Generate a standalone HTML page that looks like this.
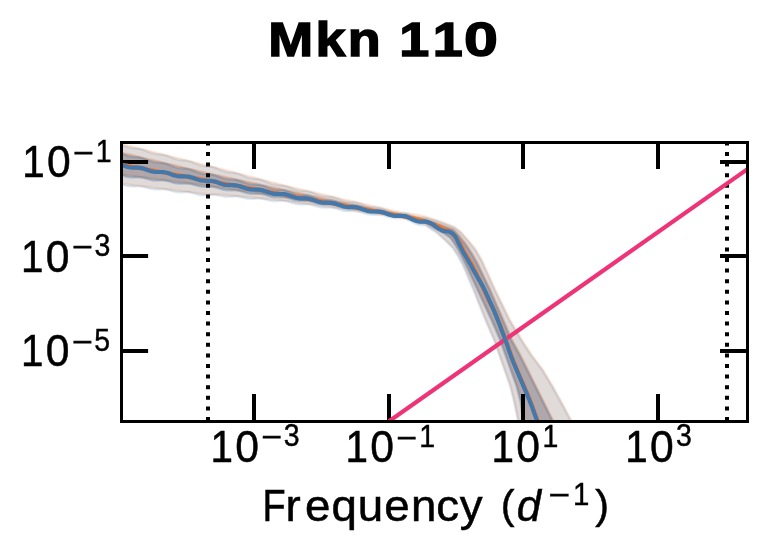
<!DOCTYPE html>
<html><head><meta charset="utf-8"><title>Mkn 110</title>
<style>
html,body{margin:0;padding:0;background:#fff;}
body{width:766px;height:553px;overflow:hidden;font-family:"Liberation Sans",sans-serif;}
svg{display:block;will-change:transform;}
</style></head><body>
<svg width="766" height="553" viewBox="0 0 766 553" font-family="'Liberation Sans', sans-serif" fill="#000">
<rect width="766" height="553" fill="#fff"/>
<defs><clipPath id="ax"><rect x="121.5" y="142.5" width="626.0" height="279.0"/></clipPath></defs>
<g clip-path="url(#ax)" stroke-linejoin="round">
<path d="M116.8 142.4 L119.8 143.3 L122.8 144.1 L125.8 144.9 L128.8 145.7 L131.8 146.4 L134.8 147.2 L137.8 147.9 L140.8 148.7 L143.8 149.4 L146.8 150.2 L149.8 150.9 L152.8 151.7 L155.8 152.4 L158.8 153.2 L161.8 153.9 L164.8 154.7 L167.8 155.4 L170.8 156.2 L173.8 156.9 L176.8 157.7 L179.8 158.4 L182.8 159.2 L185.8 159.9 L188.8 160.7 L191.8 161.4 L194.8 162.2 L197.8 162.9 L200.8 163.7 L203.8 164.4 L206.8 165.2 L209.8 165.9 L212.8 166.7 L215.8 167.4 L218.8 168.2 L221.8 168.9 L224.8 169.7 L227.8 170.5 L230.8 171.3 L233.8 172.1 L236.8 172.9 L239.8 173.7 L242.8 174.4 L245.8 175.2 L248.8 176.0 L251.8 176.8 L254.8 177.6 L257.8 178.4 L260.8 179.2 L263.8 180.0 L266.8 180.8 L269.8 181.5 L272.8 182.3 L275.8 183.1 L278.8 183.9 L281.8 184.7 L284.8 185.4 L287.8 186.1 L290.8 186.8 L293.8 187.5 L296.8 188.2 L299.8 188.9 L302.8 189.6 L305.8 190.3 L308.8 191.0 L311.8 191.7 L314.8 192.4 L317.8 193.1 L320.8 193.9 L323.8 194.5 L326.8 195.2 L329.8 195.9 L332.8 196.6 L335.8 197.3 L338.8 198.0 L341.8 198.7 L344.8 199.4 L347.8 200.0 L350.8 200.7 L353.8 201.4 L356.8 202.1 L359.8 202.8 L362.8 203.5 L365.8 204.2 L368.8 204.9 L371.8 205.5 L374.8 206.2 L377.8 206.9 L380.8 207.6 L383.8 208.3 L386.8 209.0 L389.8 209.7 L392.8 210.4 L395.8 211.0 L398.8 211.7 L401.8 212.3 L404.8 212.8 L407.8 213.2 L410.8 213.7 L413.8 214.1 L416.8 214.6 L419.8 215.3 L422.8 215.9 L425.8 216.5 L435.7 219.7 L446.5 223.6 L455.2 227.2 L461.8 232.6 L469.4 241.3 L476.3 250.0 L482.4 260.8 L495.3 289.4 L509.9 319.4 L521.8 339.4 L531.8 354.8 L543.3 370.1 L552.5 385.5 L561.0 400.8 L571.0 419.4 L573.6 424.4 L519.4 424.4 L518.5 419.4 L514.6 400.8 L510.8 385.5 L505.4 370.1 L500.0 354.8 L494.6 339.4 L486.0 319.4 L474.1 289.4 L463.5 264.4 L459.2 256.5 L453.7 247.8 L446.1 240.2 L437.1 231.9 L431.2 228.2 L425.8 224.4 L422.8 223.5 L419.8 222.5 L416.8 221.6 L413.8 220.7 L410.8 219.9 L407.8 219.2 L404.8 218.4 L401.8 217.6 L398.8 217.1 L395.8 216.7 L392.8 216.2 L389.8 215.8 L386.8 215.3 L383.8 214.9 L380.8 214.5 L377.8 214.0 L374.8 213.6 L371.8 213.1 L368.8 212.7 L365.8 212.3 L362.8 211.8 L359.8 211.4 L356.8 210.9 L353.8 210.5 L350.8 210.1 L347.8 209.6 L344.8 209.2 L341.8 208.7 L338.8 208.3 L335.8 207.9 L332.8 207.4 L329.8 207.0 L326.8 206.5 L323.8 206.1 L320.8 205.7 L317.8 205.2 L314.8 204.8 L311.8 204.4 L308.8 204.0 L305.8 203.6 L302.8 203.2 L299.8 202.8 L296.8 202.3 L293.8 201.9 L290.8 201.5 L287.8 201.1 L284.8 200.7 L281.8 200.3 L278.8 199.9 L275.8 199.7 L272.8 199.4 L269.8 199.1 L266.8 198.8 L263.8 198.6 L260.8 198.3 L257.8 198.0 L254.8 197.7 L251.8 197.4 L248.8 197.2 L245.8 196.9 L242.8 196.6 L239.8 196.3 L236.8 196.0 L233.8 195.8 L230.8 195.5 L227.8 195.2 L224.8 194.9 L221.8 194.6 L218.8 194.5 L215.8 194.5 L212.8 194.4 L209.8 194.4 L206.8 194.1 L203.8 193.7 L200.8 193.4 L197.8 193.0 L194.8 192.6 L191.8 192.3 L188.8 191.9 L185.8 191.5 L182.8 191.2 L179.8 190.8 L176.8 190.4 L173.8 190.1 L170.8 189.7 L167.8 189.3 L164.8 188.9 L161.8 188.6 L158.8 188.2 L155.8 187.8 L152.8 187.5 L149.8 187.1 L146.8 186.7 L143.8 186.4 L140.8 186.0 L137.8 185.6 L134.8 185.3 L131.8 184.9 L128.8 184.5 L125.8 184.1 L122.8 183.8 L119.8 183.5 L116.8 183.2 Z" fill="#ee7733" fill-opacity="0.15" stroke="#ee7733" stroke-opacity="0.15" stroke-width="2.2"/>
<path d="M116.8 151.5 L119.8 152.2 L122.8 153.0 L125.8 153.7 L128.8 154.4 L131.8 155.1 L134.8 155.8 L137.8 156.5 L140.8 157.3 L143.8 158.0 L146.8 158.7 L149.8 159.4 L152.8 160.1 L155.8 160.8 L158.8 161.5 L161.8 162.3 L164.8 163.0 L167.8 163.7 L170.8 164.4 L173.8 165.1 L176.8 165.8 L179.8 166.5 L182.8 167.3 L185.8 168.0 L188.8 168.7 L191.8 169.4 L194.8 170.1 L197.8 170.8 L200.8 171.6 L203.8 172.3 L206.8 173.0 L209.8 173.7 L212.8 174.3 L215.8 175.0 L218.8 175.6 L221.8 176.3 L224.8 176.9 L227.8 177.6 L230.8 178.2 L233.8 178.9 L236.8 179.5 L239.8 180.2 L242.8 180.8 L245.8 181.5 L248.8 182.1 L251.8 182.8 L254.8 183.4 L257.8 184.1 L260.8 184.7 L263.8 185.4 L266.8 186.0 L269.8 186.7 L272.8 187.3 L275.8 188.0 L278.8 188.6 L281.8 189.3 L284.8 189.9 L287.8 190.6 L290.8 191.2 L293.8 191.9 L296.8 192.5 L299.8 193.2 L302.8 193.8 L305.8 194.5 L308.8 195.1 L311.8 195.8 L314.8 196.4 L317.8 197.1 L320.8 197.8 L323.8 198.4 L326.8 199.0 L329.8 199.6 L332.8 200.2 L335.8 200.8 L338.8 201.5 L341.8 202.1 L344.8 202.7 L347.8 203.3 L350.8 203.9 L353.8 204.5 L356.8 205.2 L359.8 205.8 L362.8 206.4 L365.8 207.0 L368.8 207.6 L371.8 208.2 L374.8 208.9 L377.8 209.5 L380.8 210.1 L383.8 210.7 L386.8 211.3 L389.8 211.9 L392.8 212.6 L395.8 213.2 L398.8 213.8 L401.8 214.4 L404.8 214.9 L407.8 215.4 L410.8 215.9 L413.8 216.5 L416.8 217.1 L419.8 217.8 L422.8 218.5 L425.8 219.2 L435.7 222.9 L446.5 226.9 L453.8 229.6 L459.3 235.4 L466.3 244.4 L472.8 254.4 L478.3 264.4 L490.3 289.4 L503.3 319.4 L511.8 339.4 L520.3 354.8 L528.0 370.1 L535.6 385.5 L543.3 400.8 L552.5 419.4 L554.8 424.4 L524.5 424.4 L523.8 419.4 L521.2 400.8 L517.2 385.5 L511.6 370.1 L506.2 354.8 L500.8 339.4 L492.1 319.4 L478.1 289.4 L466.6 264.4 L461.6 254.4 L456.6 245.4 L451.1 237.4 L445.2 233.2 L438.2 229.2 L431.2 225.2 L425.8 221.9 L422.8 221.1 L419.8 220.2 L416.8 219.4 L413.8 218.7 L410.8 218.0 L407.8 217.4 L404.8 216.7 L401.8 216.1 L398.8 215.5 L395.8 215.1 L392.8 214.6 L389.8 214.1 L386.8 213.6 L383.8 213.1 L380.8 212.6 L377.8 212.1 L374.8 211.6 L371.8 211.1 L368.8 210.6 L365.8 210.1 L362.8 209.6 L359.8 209.1 L356.8 208.6 L353.8 208.1 L350.8 207.6 L347.8 207.1 L344.8 206.6 L341.8 206.1 L338.8 205.6 L335.8 205.1 L332.8 204.6 L329.8 204.1 L326.8 203.6 L323.8 203.1 L320.8 202.6 L317.8 202.1 L314.8 201.6 L311.8 201.2 L308.8 200.7 L305.8 200.3 L302.8 199.8 L299.8 199.3 L296.8 198.9 L293.8 198.4 L290.8 198.0 L287.8 197.5 L284.8 197.0 L281.8 196.6 L278.8 196.1 L275.8 195.7 L272.8 195.3 L269.8 194.8 L266.8 194.4 L263.8 193.9 L260.8 193.5 L257.8 193.1 L254.8 192.6 L251.8 192.2 L248.8 191.7 L245.8 191.3 L242.8 190.9 L239.8 190.4 L236.8 190.0 L233.8 189.5 L230.8 189.1 L227.8 188.6 L224.8 188.2 L221.8 187.8 L218.8 187.3 L215.8 186.9 L212.8 186.4 L209.8 186.0 L206.8 185.6 L203.8 185.2 L200.8 184.8 L197.8 184.4 L194.8 184.0 L191.8 183.6 L188.8 183.3 L185.8 182.9 L182.8 182.5 L179.8 182.1 L176.8 181.7 L173.8 181.3 L170.8 180.9 L167.8 180.5 L164.8 180.1 L161.8 179.7 L158.8 179.4 L155.8 179.0 L152.8 178.6 L149.8 178.2 L146.8 177.8 L143.8 177.4 L140.8 177.0 L137.8 176.6 L134.8 176.2 L131.8 175.8 L128.8 175.5 L125.8 175.1 L122.8 174.7 L119.8 174.2 L116.8 173.8 Z" fill="#ee7733" fill-opacity="0.30" stroke="#ee7733" stroke-opacity="0.30" stroke-width="2.2"/>
<path d="M116.0 142.7 L119.0 143.7 L122.0 144.9 L125.0 146.3 L128.0 147.3 L131.0 148.0 L134.0 148.3 L137.0 148.6 L140.0 149.0 L143.0 149.8 L146.0 151.0 L149.0 152.3 L152.0 153.3 L155.0 154.0 L158.0 154.3 L161.0 154.6 L164.0 155.0 L167.0 155.8 L170.0 157.0 L173.0 158.3 L176.0 159.3 L179.0 160.0 L182.0 160.3 L185.0 160.6 L188.0 161.0 L191.0 161.8 L194.0 163.0 L197.0 164.3 L200.0 165.3 L203.0 166.0 L206.0 166.3 L209.0 166.6 L212.0 167.0 L215.0 167.8 L218.0 169.0 L221.0 170.3 L224.0 171.4 L227.0 172.1 L230.0 172.5 L233.0 172.7 L236.0 173.2 L239.0 174.0 L242.0 175.3 L245.0 176.6 L248.0 177.7 L251.0 178.4 L254.0 178.8 L257.0 179.0 L260.0 179.5 L263.0 180.4 L266.0 181.6 L269.0 182.9 L272.0 184.0 L275.0 184.7 L278.0 185.1 L281.0 185.3 L284.0 185.7 L287.0 186.5 L290.0 187.6 L293.0 188.8 L296.0 189.9 L299.0 190.5 L302.0 190.8 L305.0 191.0 L308.0 191.4 L311.0 192.1 L314.0 193.3 L317.0 194.5 L320.0 195.5 L323.0 196.1 L326.0 196.4 L329.0 196.6 L332.0 196.9 L335.0 197.7 L338.0 198.8 L341.0 200.0 L344.0 201.0 L347.0 201.7 L350.0 201.9 L353.0 202.1 L356.0 202.4 L359.0 203.2 L362.0 204.3 L365.0 205.5 L368.0 206.5 L371.0 207.2 L374.0 207.4 L377.0 207.6 L380.0 207.9 L383.0 208.7 L386.0 209.8 L389.0 211.0 L392.0 212.0 L395.0 212.7 L398.0 212.9 L401.0 213.0 L404.0 213.0 L407.0 213.5 L410.0 214.7 L413.0 216.0 L416.0 217.0 L419.0 217.6 L422.0 217.7 L425.0 217.5 L434.9 220.2 L445.7 224.2 L454.4 227.8 L461.0 233.2 L468.6 241.9 L475.5 250.6 L481.6 261.4 L494.5 290.0 L509.1 320.0 L521.0 340.0 L531.0 355.4 L542.5 370.7 L551.7 386.1 L560.2 401.4 L570.2 420.0 L572.8 425.0 L518.6 425.0 L517.7 420.0 L513.8 401.4 L510.0 386.1 L504.6 370.7 L499.2 355.4 L493.8 340.0 L485.2 320.0 L473.3 290.0 L462.7 265.0 L458.4 257.1 L452.9 248.4 L445.3 240.8 L436.3 232.5 L430.4 228.8 L425.0 225.4 L422.0 225.2 L419.0 224.9 L416.0 224.0 L413.0 222.6 L410.0 221.0 L407.0 219.5 L404.0 218.6 L401.0 218.3 L398.0 218.3 L395.0 218.3 L392.0 217.9 L389.0 217.1 L386.0 216.2 L383.0 215.3 L380.0 214.8 L377.0 214.7 L374.0 214.8 L371.0 214.7 L368.0 214.4 L365.0 213.6 L362.0 212.6 L359.0 211.8 L356.0 211.3 L353.0 211.1 L350.0 211.2 L347.0 211.2 L344.0 210.9 L341.0 210.1 L338.0 209.1 L335.0 208.3 L332.0 207.7 L329.0 207.6 L326.0 207.7 L323.0 207.7 L320.0 207.3 L317.0 206.6 L314.0 205.6 L311.0 204.8 L308.0 204.3 L305.0 204.2 L302.0 204.4 L299.0 204.4 L296.0 204.0 L293.0 203.3 L290.0 202.3 L287.0 201.5 L284.0 201.0 L281.0 200.9 L278.0 201.1 L275.0 201.3 L272.0 201.1 L269.0 200.5 L266.0 199.7 L263.0 198.9 L260.0 198.6 L257.0 198.6 L254.0 198.9 L251.0 199.0 L248.0 198.8 L245.0 198.2 L242.0 197.4 L239.0 196.7 L236.0 196.4 L233.0 196.4 L230.0 196.7 L227.0 196.8 L224.0 196.6 L221.0 196.0 L218.0 195.3 L215.0 194.9 L212.0 194.7 L209.0 195.0 L206.0 195.3 L203.0 195.4 L200.0 195.1 L197.0 194.4 L194.0 193.5 L191.0 192.7 L188.0 192.2 L185.0 192.2 L182.0 192.3 L179.0 192.4 L176.0 192.1 L173.0 191.4 L170.0 190.5 L167.0 189.7 L164.0 189.3 L161.0 189.2 L158.0 189.4 L155.0 189.4 L152.0 189.1 L149.0 188.5 L146.0 187.6 L143.0 186.8 L140.0 186.3 L137.0 186.3 L134.0 186.4 L131.0 186.5 L128.0 186.2 L125.0 185.5 L122.0 184.6 L119.0 183.9 L116.0 183.5 Z" fill="#4477aa" fill-opacity="0.15" stroke="#4477aa" stroke-opacity="0.15" stroke-width="2.2"/>
<path d="M116.0 151.8 L119.0 152.6 L122.0 153.8 L125.0 155.0 L128.0 156.1 L131.0 156.7 L134.0 157.0 L137.0 157.2 L140.0 157.6 L143.0 158.4 L146.0 159.5 L149.0 160.7 L152.0 161.8 L155.0 162.4 L158.0 162.7 L161.0 162.9 L164.0 163.3 L167.0 164.1 L170.0 165.2 L173.0 166.5 L176.0 167.5 L179.0 168.2 L182.0 168.4 L185.0 168.6 L188.0 169.0 L191.0 169.8 L194.0 170.9 L197.0 172.2 L200.0 173.2 L203.0 173.9 L206.0 174.2 L209.0 174.3 L212.0 174.6 L215.0 175.4 L218.0 176.4 L221.0 177.6 L224.0 178.6 L227.0 179.2 L230.0 179.4 L233.0 179.5 L236.0 179.8 L239.0 180.6 L242.0 181.6 L245.0 182.8 L248.0 183.8 L251.0 184.4 L254.0 184.6 L257.0 184.7 L260.0 185.0 L263.0 185.8 L266.0 186.8 L269.0 188.0 L272.0 189.0 L275.0 189.6 L278.0 189.8 L281.0 189.9 L284.0 190.2 L287.0 191.0 L290.0 192.0 L293.0 193.2 L296.0 194.2 L299.0 194.8 L302.0 195.0 L305.0 195.1 L308.0 195.5 L311.0 196.2 L314.0 197.3 L317.0 198.5 L320.0 199.4 L323.0 200.0 L326.0 200.2 L329.0 200.3 L332.0 200.5 L335.0 201.2 L338.0 202.3 L341.0 203.4 L344.0 204.4 L347.0 204.9 L350.0 205.1 L353.0 205.2 L356.0 205.5 L359.0 206.2 L362.0 207.2 L365.0 208.4 L368.0 209.3 L371.0 209.8 L374.0 210.0 L377.0 210.1 L380.0 210.4 L383.0 211.1 L386.0 212.1 L389.0 213.3 L392.0 214.2 L395.0 214.8 L398.0 215.0 L401.0 215.0 L404.0 215.1 L407.0 215.7 L410.0 217.0 L413.0 218.4 L416.0 219.5 L419.0 220.2 L422.0 220.3 L425.0 220.2 L434.9 223.5 L445.7 227.5 L453.0 230.2 L458.5 236.0 L465.5 245.0 L472.0 255.0 L477.5 265.0 L489.5 290.0 L502.5 320.0 L511.0 340.0 L519.5 355.4 L527.2 370.7 L534.8 386.1 L542.5 401.4 L551.7 420.0 L554.0 425.0 L523.7 425.0 L523.0 420.0 L520.4 401.4 L516.4 386.1 L510.8 370.7 L505.4 355.4 L500.0 340.0 L491.3 320.0 L477.3 290.0 L465.8 265.0 L460.8 255.0 L455.8 246.0 L450.3 238.0 L444.4 233.8 L437.4 229.8 L430.4 225.8 L425.0 222.9 L422.0 222.9 L419.0 222.6 L416.0 221.8 L413.0 220.6 L410.0 219.1 L407.0 217.7 L404.0 216.9 L401.0 216.7 L398.0 216.7 L395.0 216.7 L392.0 216.2 L389.0 215.4 L386.0 214.4 L383.0 213.5 L380.0 212.9 L377.0 212.7 L374.0 212.7 L371.0 212.7 L368.0 212.2 L365.0 211.4 L362.0 210.4 L359.0 209.5 L356.0 208.9 L353.0 208.7 L350.0 208.7 L347.0 208.7 L344.0 208.2 L341.0 207.4 L338.0 206.4 L335.0 205.5 L332.0 204.9 L329.0 204.7 L326.0 204.7 L323.0 204.7 L320.0 204.2 L317.0 203.4 L314.0 202.5 L311.0 201.6 L308.0 201.0 L305.0 200.9 L302.0 201.0 L299.0 200.9 L296.0 200.6 L293.0 199.8 L290.0 198.8 L287.0 197.9 L284.0 197.4 L281.0 197.2 L278.0 197.3 L275.0 197.3 L272.0 196.9 L269.0 196.2 L266.0 195.2 L263.0 194.3 L260.0 193.8 L257.0 193.7 L254.0 193.8 L251.0 193.8 L248.0 193.4 L245.0 192.6 L242.0 191.7 L239.0 190.8 L236.0 190.3 L233.0 190.2 L230.0 190.3 L227.0 190.3 L224.0 189.9 L221.0 189.1 L218.0 188.1 L215.0 187.3 L212.0 186.8 L209.0 186.7 L206.0 186.8 L203.0 186.8 L200.0 186.5 L197.0 185.8 L194.0 184.9 L191.0 184.0 L188.0 183.6 L185.0 183.5 L182.0 183.7 L179.0 183.7 L176.0 183.4 L173.0 182.7 L170.0 181.7 L167.0 180.9 L164.0 180.5 L161.0 180.4 L158.0 180.5 L155.0 180.6 L152.0 180.3 L149.0 179.5 L146.0 178.6 L143.0 177.8 L140.0 177.3 L137.0 177.3 L134.0 177.4 L131.0 177.5 L128.0 177.1 L125.0 176.4 L122.0 175.5 L119.0 174.6 L116.0 174.1 Z" fill="#4477aa" fill-opacity="0.30" stroke="#4477aa" stroke-opacity="0.30" stroke-width="2.2"/>
<path d="M254.0 142.5 v26.4 M254.0 421.5 v-27.5 M389.0 142.5 v26.4 M389.0 421.5 v-27.5 M523.0 142.5 v26.4 M523.0 421.5 v-27.5 M658.0 142.5 v26.4 M658.0 421.5 v-27.5 M121.5 162.0 h26.6 M747.5 162.0 h-27.5 M121.5 256.0 h26.6 M747.5 256.0 h-27.5 M121.5 351.0 h26.6 M747.5 351.0 h-27.5" stroke="#000" stroke-width="4" fill="none"/>
<path d="M208.0 421.0 V140.0" stroke="#000" stroke-width="4" stroke-dasharray="4 6.6" fill="none"/>
<path d="M727.0 421.0 V140.0" stroke="#000" stroke-width="4" stroke-dasharray="4 6.6" fill="none"/>
<path d="M380 427.6 L760 160.3" stroke="#ee3377" stroke-width="4.2" fill="none"/>
<path d="M116.0 163.7 L120.0 164.5 L124.0 165.2 L128.0 165.9 L132.0 166.7 L136.0 167.4 L140.0 168.1 L144.0 168.8 L148.0 169.6 L152.0 170.3 L156.0 171.0 L160.0 171.8 L164.0 172.5 L168.0 173.2 L172.0 174.0 L176.0 174.7 L180.0 175.4 L184.0 176.2 L188.0 176.9 L192.0 177.6 L196.0 178.4 L200.0 179.1 L204.0 179.8 L208.0 180.6 L212.0 181.3 L216.0 182.0 L220.0 182.8 L224.0 183.5 L228.0 184.2 L232.0 185.0 L236.0 185.7 L240.0 186.4 L244.0 187.1 L248.0 187.9 L252.0 188.6 L256.0 189.3 L260.0 190.1 L264.0 190.8 L268.0 191.5 L272.0 192.3 L276.0 193.0 L280.0 193.7 L284.0 194.5 L288.0 195.2 L292.0 195.9 L296.0 196.7 L300.0 197.4 L304.0 198.1 L308.0 198.9 L312.0 199.6 L316.0 200.3 L320.0 201.1 L324.0 201.8 L328.0 202.5 L332.0 203.3 L336.0 204.0 L340.0 204.7 L344.0 205.4 L348.0 206.2 L352.0 206.9 L356.0 207.6 L360.0 208.4 L364.0 209.1 L368.0 209.8 L372.0 210.6 L376.0 211.3 L380.0 212.0 L384.0 212.8 L388.0 213.5 L392.0 214.2 L396.0 215.0 L396.4 215.0 L396.9 215.1 L397.6 215.2 L398.6 215.4 L400.0 215.7 L402.1 216.1 L404.8 216.6 L407.8 217.2 L410.6 217.8 L413.0 218.3 L414.8 218.7 L416.2 219.0 L417.4 219.3 L418.6 219.6 L420.0 220.0 L421.6 220.4 L423.2 220.8 L424.8 221.3 L426.4 221.7 L428.0 222.2 L429.5 222.7 L430.9 223.2 L432.2 223.7 L433.6 224.2 L435.0 224.8 L436.4 225.4 L437.8 225.9 L439.2 226.5 L440.6 227.2 L442.0 227.8 L443.4 228.5 L444.9 229.1 L446.3 229.8 L447.7 230.5 L449.0 231.3 L450.3 232.1 L451.5 232.8 L452.6 233.7 L453.7 234.6 L454.8 235.6 L455.8 236.8 L456.8 238.1 L457.7 239.4 L458.7 240.9 L459.6 242.5 L460.6 244.2 L461.5 246.0 L462.5 247.9 L463.4 249.9 L464.4 251.7 L465.4 253.4 L466.4 255.1 L467.4 256.8 L468.4 258.6 L469.5 260.4 L470.6 262.4 L471.9 264.6 L473.1 266.7 L474.2 268.9 L475.3 270.9 L476.2 272.7 L477.0 274.4 L477.8 276.1 L478.6 277.8 L479.4 279.6 L480.2 281.5 L481.1 283.4 L482.0 285.4 L482.9 287.5 L483.8 289.6 L484.8 291.8 L485.7 294.0 L486.7 296.3 L487.8 298.6 L488.9 300.9 L490.0 303.0 L491.1 304.9 L492.3 306.9 L493.7 309.4 L495.2 312.7 L497.1 317.2 L499.3 322.7 L501.5 328.5 L503.7 334.1 L505.5 339.0 L506.9 342.9 L508.1 346.3 L509.1 349.4 L510.1 352.3 L511.2 355.4 L512.4 358.5 L513.6 361.6 L514.9 364.6 L516.1 367.7 L517.4 370.7 L518.7 373.8 L520.0 376.9 L521.4 379.9 L522.7 383.0 L524.0 386.1 L525.3 389.2 L526.6 392.2 L527.9 395.3 L529.2 398.3 L530.4 401.4 L531.6 404.6 L532.9 407.9 L534.0 411.2 L535.1 414.2 L536.1 416.8 L536.9 419.0 L537.6 421.0 L538.2 422.7 L538.7 424.0 L539.1 425.0" stroke="#ee7733" stroke-width="4.2" fill="none" stroke-linejoin="round"/>
<path d="M116.0 163.4 L117.5 163.7 L119.0 164.1 L120.5 164.5 L122.0 165.0 L123.5 165.6 L125.0 166.1 L126.5 166.6 L128.0 167.0 L129.5 167.3 L131.0 167.5 L132.5 167.6 L134.0 167.6 L135.5 167.6 L137.0 167.6 L138.5 167.7 L140.0 167.8 L141.5 168.1 L143.0 168.5 L144.5 168.9 L146.0 169.4 L147.5 170.0 L149.0 170.5 L150.5 171.0 L152.0 171.4 L153.5 171.7 L155.0 171.9 L156.5 172.0 L158.0 172.0 L159.5 172.0 L161.0 172.0 L162.5 172.1 L164.0 172.2 L165.5 172.5 L167.0 172.8 L168.5 173.3 L170.0 173.8 L171.5 174.4 L173.0 174.9 L174.5 175.4 L176.0 175.8 L177.5 176.1 L179.0 176.3 L180.5 176.4 L182.0 176.4 L183.5 176.4 L185.0 176.4 L186.5 176.5 L188.0 176.6 L189.5 176.9 L191.0 177.2 L192.5 177.7 L194.0 178.2 L195.5 178.8 L197.0 179.3 L198.5 179.8 L200.0 180.2 L201.5 180.5 L203.0 180.7 L204.5 180.7 L206.0 180.8 L207.5 180.8 L209.0 180.8 L210.5 180.9 L212.0 181.0 L213.5 181.3 L215.0 181.6 L216.5 182.1 L218.0 182.6 L219.5 183.2 L221.0 183.7 L222.5 184.2 L224.0 184.6 L225.5 184.9 L227.0 185.0 L228.5 185.1 L230.0 185.2 L231.5 185.2 L233.0 185.2 L234.5 185.3 L236.0 185.4 L237.5 185.7 L239.0 186.0 L240.5 186.5 L242.0 187.0 L243.5 187.5 L245.0 188.1 L246.5 188.6 L248.0 189.0 L249.5 189.2 L251.0 189.4 L252.5 189.5 L254.0 189.6 L255.5 189.6 L257.0 189.6 L258.5 189.6 L260.0 189.8 L261.5 190.1 L263.0 190.4 L264.5 190.9 L266.0 191.4 L267.5 191.9 L269.0 192.5 L270.5 193.0 L272.0 193.3 L273.5 193.6 L275.0 193.8 L276.5 193.9 L278.0 194.0 L279.5 194.0 L281.0 194.0 L282.5 194.0 L284.0 194.2 L285.5 194.4 L287.0 194.8 L288.5 195.3 L290.0 195.8 L291.5 196.3 L293.0 196.9 L294.5 197.3 L296.0 197.7 L297.5 198.0 L299.0 198.2 L300.5 198.3 L302.0 198.3 L303.5 198.3 L305.0 198.4 L306.5 198.4 L308.0 198.6 L309.5 198.8 L311.0 199.2 L312.5 199.7 L314.0 200.2 L315.5 200.7 L317.0 201.3 L318.5 201.7 L320.0 202.1 L321.5 202.4 L323.0 202.6 L324.5 202.7 L326.0 202.7 L327.5 202.7 L329.0 202.8 L330.5 202.8 L332.0 203.0 L333.5 203.2 L335.0 203.6 L336.5 204.0 L338.0 204.6 L339.5 205.1 L341.0 205.6 L342.5 206.1 L344.0 206.5 L345.5 206.8 L347.0 207.0 L348.5 207.1 L350.0 207.1 L351.5 207.1 L353.0 207.1 L354.5 207.2 L356.0 207.4 L357.5 207.6 L359.0 208.0 L360.5 208.4 L362.0 209.0 L363.5 209.5 L365.0 210.0 L366.5 210.5 L368.0 210.9 L369.5 211.2 L371.0 211.4 L372.5 211.5 L374.0 211.5 L375.5 211.5 L377.0 211.5 L378.5 211.6 L380.0 211.8 L381.5 212.0 L383.0 212.4 L384.5 212.8 L386.0 213.4 L387.5 213.9 L389.0 214.4 L390.5 214.9 L392.0 215.3 L393.5 215.6 L395.0 215.8 L396.5 215.9 L398.0 215.9 L399.5 215.9 L401.0 215.9 L401.1 215.9 L401.3 215.9 L401.5 215.9 L401.8 215.9 L402.1 216.0 L402.5 216.0 L403.0 216.0 L403.5 216.0 L404.1 216.1 L404.8 216.2 L405.6 216.3 L406.5 216.6 L407.6 217.1 L408.9 217.7 L410.4 218.4 L411.8 219.1 L413.2 219.7 L414.4 220.2 L415.4 220.6 L416.3 220.9 L417.0 221.1 L417.8 221.3 L418.6 221.5 L419.6 221.6 L420.7 221.7 L421.9 221.7 L423.2 221.7 L424.4 221.7 L425.7 221.7 L426.8 221.9 L427.9 222.2 L428.9 222.5 L429.9 222.9 L430.9 223.3 L431.8 223.8 L432.6 224.2 L433.3 224.6 L433.8 225.0 L434.2 225.4 L434.7 225.8 L435.2 226.2 L435.9 226.7 L436.8 227.3 L437.8 228.0 L438.9 228.7 L440.0 229.3 L441.2 230.0 L442.4 230.5 L443.6 230.9 L445.0 231.1 L446.3 231.3 L447.6 231.5 L448.9 231.7 L450.0 232.1 L451.0 232.6 L451.8 233.1 L452.6 233.7 L453.4 234.3 L454.1 235.1 L454.8 235.9 L455.5 236.9 L456.1 238.0 L456.7 239.1 L457.3 240.4 L457.9 241.7 L458.6 243.0 L459.3 244.4 L460.0 245.8 L460.7 247.2 L461.5 248.7 L462.2 250.2 L463.0 251.7 L463.8 253.1 L464.6 254.5 L465.5 255.9 L466.3 257.4 L467.2 258.8 L468.1 260.4 L469.0 262.1 L470.0 263.8 L471.0 265.6 L472.0 267.5 L473.0 269.2 L473.9 270.9 L474.8 272.4 L475.6 273.9 L476.4 275.3 L477.2 276.7 L478.0 278.1 L478.9 279.6 L479.8 281.2 L480.7 282.8 L481.6 284.4 L482.6 286.1 L483.5 287.8 L484.4 289.6 L485.3 291.4 L486.2 293.3 L487.0 295.1 L487.9 297.0 L488.7 299.0 L489.6 300.9 L490.4 302.7 L491.1 304.3 L491.9 305.9 L492.7 307.7 L493.6 309.9 L494.8 312.7 L496.3 316.4 L498.0 320.8 L499.9 325.6 L501.7 330.4 L503.5 335.0 L505.0 339.0 L506.2 342.3 L507.2 345.2 L508.1 347.9 L508.9 350.4 L509.8 352.8 L510.7 355.4 L511.7 358.0 L512.7 360.6 L513.7 363.1 L514.8 365.6 L515.8 368.2 L516.9 370.7 L518.0 373.3 L519.1 375.8 L520.2 378.4 L521.3 381.0 L522.4 383.5 L523.5 386.1 L524.6 388.7 L525.7 391.2 L526.8 393.8 L527.8 396.3 L528.9 398.8 L529.9 401.4 L530.9 404.0 L532.0 406.8 L533.0 409.5 L533.9 412.2 L534.8 414.6 L535.6 416.8 L536.3 418.7 L536.9 420.4 L537.5 421.9 L537.9 423.1 L538.3 424.2 L538.6 425.0" stroke="#4477aa" stroke-width="4.2" fill="none" stroke-linejoin="round"/>
</g>
<rect x="121.5" y="142.5" width="626.0" height="279.0" fill="none" stroke="#000" stroke-width="3"/>
<text font-weight="bold" stroke="#000" stroke-width="1.40" stroke-linejoin="miter" stroke-miterlimit="3" transform="scale(1.1140,1.0000)" font-size="48.40" x="240.82 283.32 312.14 341.81 358.51 388.50" y="56.10">Mkn 11</text>
<text font-weight="bold" stroke="#000" stroke-width="1.40" stroke-linejoin="miter" stroke-miterlimit="3" transform="scale(1.2600,1.0000)" font-size="48.40" x="368.31" y="56.10">0</text>
<text stroke="#000" stroke-width="0.50" stroke-linejoin="miter" stroke-miterlimit="3" transform="scale(0.9300,1.0000)" font-size="43.50" x="23.82" y="176.75">1</text>
<text stroke="#000" stroke-width="0.50" stroke-linejoin="miter" stroke-miterlimit="3" transform="scale(0.9800,1.0000)" font-size="43.50" x="47.84" y="176.75">0</text>
<text stroke="#000" stroke-width="0.40" stroke-linejoin="miter" stroke-miterlimit="3" transform="scale(1.1200,1.0000)" font-size="32.00" x="65.23" y="163.80">−</text>
<text stroke="#000" stroke-width="0.45" stroke-linejoin="miter" stroke-miterlimit="3" transform="scale(0.8900,1.0000)" font-size="32.00" x="107.68" y="161.88">1</text>
<text stroke="#000" stroke-width="0.50" stroke-linejoin="miter" stroke-miterlimit="3" transform="scale(0.9300,1.0000)" font-size="43.50" x="22.64" y="271.75">1</text>
<text stroke="#000" stroke-width="0.50" stroke-linejoin="miter" stroke-miterlimit="3" transform="scale(0.9800,1.0000)" font-size="43.50" x="46.71" y="271.75">0</text>
<text stroke="#000" stroke-width="0.40" stroke-linejoin="miter" stroke-miterlimit="3" transform="scale(1.1200,1.0000)" font-size="32.00" x="64.25" y="257.90">−</text>
<text stroke="#000" stroke-width="0.45" stroke-linejoin="miter" stroke-miterlimit="3" transform="scale(0.8900,1.0000)" font-size="32.00" x="106.08" y="255.97">3</text>
<text stroke="#000" stroke-width="0.50" stroke-linejoin="miter" stroke-miterlimit="3" transform="scale(0.9300,1.0000)" font-size="43.50" x="22.64" y="365.75">1</text>
<text stroke="#000" stroke-width="0.50" stroke-linejoin="miter" stroke-miterlimit="3" transform="scale(0.9800,1.0000)" font-size="43.50" x="46.71" y="365.75">0</text>
<text stroke="#000" stroke-width="0.40" stroke-linejoin="miter" stroke-miterlimit="3" transform="scale(1.1200,1.0000)" font-size="32.00" x="64.25" y="352.70">−</text>
<text stroke="#000" stroke-width="0.45" stroke-linejoin="miter" stroke-miterlimit="3" transform="scale(0.8900,1.0000)" font-size="32.00" x="106.02" y="350.77">5</text>
<text stroke="#000" stroke-width="0.50" stroke-linejoin="miter" stroke-miterlimit="3" transform="scale(0.9300,1.0000)" font-size="43.50" x="226.29" y="461.85">1</text>
<text stroke="#000" stroke-width="0.50" stroke-linejoin="miter" stroke-miterlimit="3" transform="scale(0.9800,1.0000)" font-size="43.50" x="239.98" y="461.85">0</text>
<text stroke="#000" stroke-width="0.40" stroke-linejoin="miter" stroke-miterlimit="3" transform="scale(1.1200,1.0000)" font-size="32.00" x="233.35" y="447.70">−</text>
<text stroke="#000" stroke-width="0.45" stroke-linejoin="miter" stroke-miterlimit="3" transform="scale(0.8900,1.0000)" font-size="32.00" x="318.89" y="445.77">3</text>
<text stroke="#000" stroke-width="0.50" stroke-linejoin="miter" stroke-miterlimit="3" transform="scale(0.9300,1.0000)" font-size="43.50" x="371.45" y="461.85">1</text>
<text stroke="#000" stroke-width="0.50" stroke-linejoin="miter" stroke-miterlimit="3" transform="scale(0.9800,1.0000)" font-size="43.50" x="377.73" y="461.85">0</text>
<text stroke="#000" stroke-width="0.40" stroke-linejoin="miter" stroke-miterlimit="3" transform="scale(1.1200,1.0000)" font-size="32.00" x="353.89" y="448.60">−</text>
<text stroke="#000" stroke-width="0.45" stroke-linejoin="miter" stroke-miterlimit="3" transform="scale(0.8900,1.0000)" font-size="32.00" x="470.93" y="446.67">1</text>
<text stroke="#000" stroke-width="0.50" stroke-linejoin="miter" stroke-miterlimit="3" transform="scale(0.9300,1.0000)" font-size="43.50" x="528.44" y="461.85">1</text>
<text stroke="#000" stroke-width="0.50" stroke-linejoin="miter" stroke-miterlimit="3" transform="scale(0.9800,1.0000)" font-size="43.50" x="526.71" y="461.85">0</text>
<text stroke="#000" stroke-width="0.45" stroke-linejoin="miter" stroke-miterlimit="3" transform="scale(0.8900,1.0000)" font-size="32.00" x="609.47" y="446.67">1</text>
<text stroke="#000" stroke-width="0.50" stroke-linejoin="miter" stroke-miterlimit="3" transform="scale(0.9300,1.0000)" font-size="43.50" x="672.42" y="461.85">1</text>
<text stroke="#000" stroke-width="0.50" stroke-linejoin="miter" stroke-miterlimit="3" transform="scale(0.9800,1.0000)" font-size="43.50" x="663.35" y="461.85">0</text>
<text stroke="#000" stroke-width="0.45" stroke-linejoin="miter" stroke-miterlimit="3" transform="scale(0.8900,1.0000)" font-size="32.00" x="759.46" y="445.77">3</text>
<text stroke="#000" stroke-width="0.50" stroke-linejoin="miter" stroke-miterlimit="3" transform="scale(0.8700,1.0000)" font-size="43.50" x="301.74" y="521.35">F</text>
<text stroke="#000" stroke-width="0.50" stroke-linejoin="miter" stroke-miterlimit="3" transform="scale(1.0500,1.0000)" font-size="43.50" x="272.03 290.40 315.66 340.66 365.93 391.36 415.45 437.95" y="521.35">requency</text>
<text stroke="#000" stroke-width="0.50" stroke-linejoin="miter" stroke-miterlimit="3" transform="scale(0.9500,0.9260)" font-size="43.50" x="527.13" y="560.10">(</text>
<text font-style="italic" stroke="#000" stroke-width="0.50" stroke-linejoin="miter" stroke-miterlimit="3" font-size="43.50" x="516.78" y="521.35">d</text>
<text stroke="#000" stroke-width="0.40" stroke-linejoin="miter" stroke-miterlimit="3" transform="scale(1.1600,1.0000)" font-size="32.00" x="472.76" y="506.40">−</text>
<text stroke="#000" stroke-width="0.45" stroke-linejoin="miter" stroke-miterlimit="3" transform="scale(0.9200,1.0000)" font-size="32.00" x="622.79" y="504.88">1</text>
<text stroke="#000" stroke-width="0.50" stroke-linejoin="miter" stroke-miterlimit="3" transform="scale(0.9500,0.9260)" font-size="43.50" x="626.52" y="560.10">)</text>
</svg>
</body></html>
